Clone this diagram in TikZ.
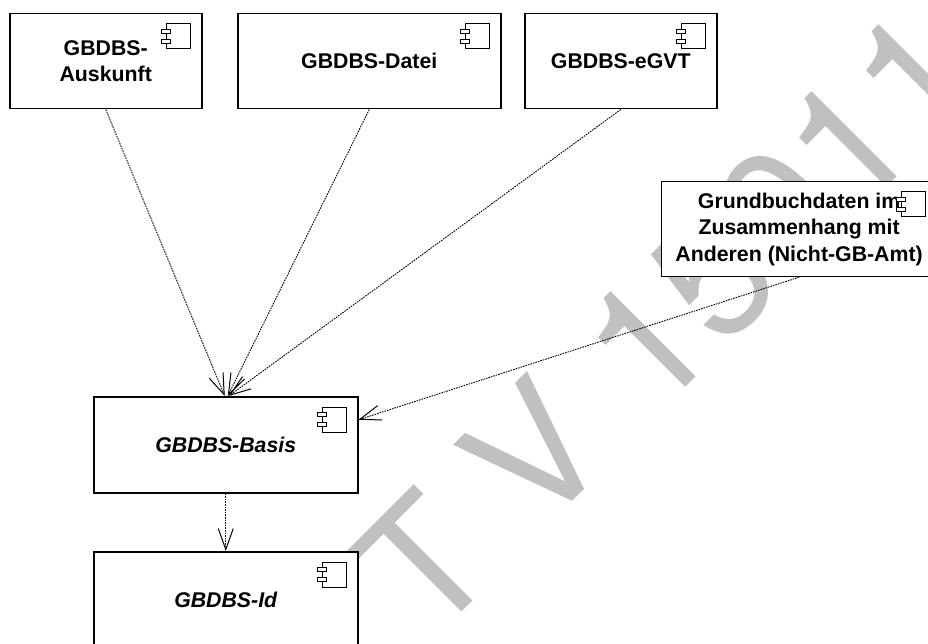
\documentclass[tikz,border=0pt]{standalone}
\usepackage{fontspec}
\setmainfont{Liberation Sans}
\newfontfamily\stampfont{TeX Gyre Heros}
\usetikzlibrary{arrows.meta}

\tikzset{
  box/.style={shape=rectangle,draw,line width=1.5pt,fill=white,anchor=north west,
    align=center,font=\fontsize{21.3}{26.5}\selectfont\bfseries},
  dep/.style={line width=0.9pt,dash pattern=on 1.6pt off 1pt,
    -{Straight Barb[length=21pt,width=15pt,line width=1pt]}}
}
\definecolor{wmgray}{gray}{0.753}
\newcommand{\compicon}[1]{%
  \draw[line width=1pt,fill=white] ([shift={(-36,11)}]#1.north east) rectangle ([shift={(-12,36)}]#1.north east);
  \draw[line width=1pt,fill=white] ([shift={(-41,16.5)}]#1.north east) rectangle ([shift={(-32,20.5)}]#1.north east);
  \draw[line width=1pt,fill=white] ([shift={(-41,26.5)}]#1.north east) rectangle ([shift={(-32,30.5)}]#1.north east);
}

\begin{document}
\begin{tikzpicture}
[x=1pt,y=-1pt,
  wm/.style={anchor=base west,rotate=45,text=wmgray,inner sep=0pt,
    font=\fontsize{170}{170}\stampfont\addfontfeatures{Kerning=Off}}]
\useasboundingbox (0,0) rectangle (928,644);
\clip (0,0) rectangle (928,644);
% watermark
\node[wm] (stamp) at (430,643.5) {T V\kern6pt{} 15011};
% boxes
\node[box,minimum width=192pt,minimum height=95pt] (auskunft) at (9,13) {GBDBS-\\Auskunft};
\node[box,minimum width=263pt,minimum height=95pt] (datei) at (237,13) {GBDBS-Datei};
\node[box,minimum width=192pt,minimum height=95pt] (egvt) at (524,13) {GBDBS-eGVT};
\node[box,minimum width=275pt,minimum height=95pt,line width=1.2pt] (grund) at (661,181) {Grundbuchdaten im\\Zusammenhang mit\\Anderen (Nicht-GB-Amt)};
\node[box,minimum width=264pt,minimum height=96pt] (basis) at (93,396) {\itshape GBDBS-Basis};
\node[box,minimum width=264pt,minimum height=96pt] (id) at (93,551) {\itshape GBDBS-Id};
% icons
\foreach \n in {auskunft,datei,egvt,grund,basis,id}
  \compicon{\n};
% dependencies
\draw[dep] (auskunft.south) -- ([xshift=-1pt]basis.north);
\draw[dep] (datei.south) -- ([xshift=2pt]basis.north);
\draw[dep] (egvt.south) -- ([xshift=3pt]basis.north);
\draw[dep] (grund.south) -- ([yshift=25pt]basis.east);
\draw[dep] (basis.south) -- (id.north);
\end{tikzpicture}
\end{document}
